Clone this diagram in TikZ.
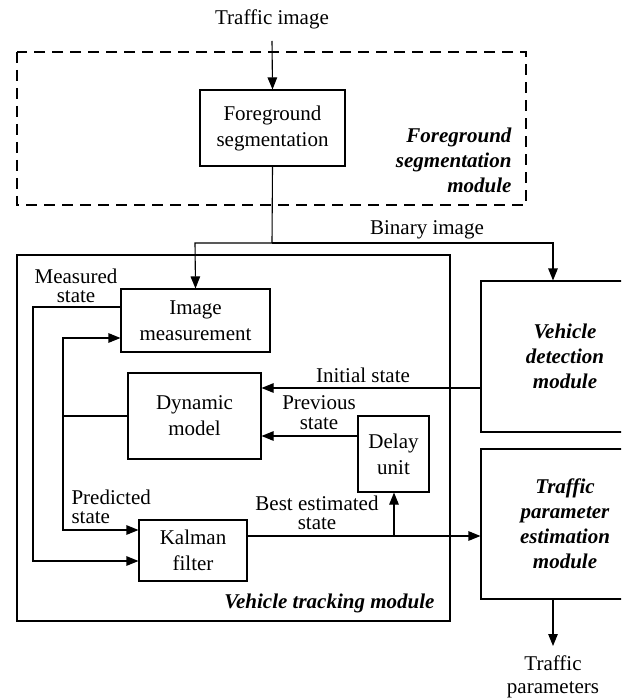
\documentclass[tikz,border=0pt]{standalone}
\usepackage{fontspec}
\setmainfont{Liberation Serif}
\usetikzlibrary{arrows.meta}
\begin{document}
\begin{tikzpicture}[x=1pt,y=-1pt,
  line width=1.1pt,
  font=\fontsize{21}{26}\selectfont,
  arr/.style={-{Triangle[length=12pt,width=9.5pt]}},
  blk/.style={draw,inner sep=0pt,align=center},
  lbl/.style={inner sep=0pt,align=center,font=\fontsize{21}{19.5}\selectfont},
  modl/.style={inner sep=0pt,font=\fontsize{21}{25}\selectfont\bfseries\itshape},
  dashbox/.style={draw,dash pattern=on 11pt off 7pt}]
\useasboundingbox (0,0) rectangle (621,700);
\clip (0,0) rectangle (621,700);
% top
\node[lbl] (ti) at (272,19) {Traffic image};
\coordinate (tiend) at (272,41);
\draw[dashbox] (17,52) rectangle (526,205);
\node[blk,minimum width=145pt,minimum height=76pt] (fs) at (272.5,128) {Foreground\\segmentation};
\node[modl,align=right,anchor=east] (fsm) at (512,160) {Foreground\\segmentation\\module};
\draw[arr] (tiend) -- (fs.north);
% tracking module
\draw (17,255) rectangle (450,621);
\node[modl,anchor=east] (vtm) at (435,603) {Vehicle tracking module};
\node[blk,minimum width=149pt,minimum height=63pt] (im) at (195.5,320.5) {Image\\measurement};
\node[blk,minimum width=133pt,minimum height=86pt] (dm) at (194.5,416) {Dynamic\\model};
\node[blk,minimum width=108pt,minimum height=61pt] (kf) at (193,550.5) {Kalman\\filter};
\node[blk,minimum width=71pt,minimum height=76pt] (du) at (393.5,454) {Delay\\unit};
% right modules
\node[blk,minimum width=168pt,minimum height=151pt,font=\fontsize{21}{25}\selectfont\bfseries\itshape] (vd) at (565,356.5) {Vehicle\\detection\\module};
\node[blk,minimum width=168pt,minimum height=150pt,font=\fontsize{21}{25}\selectfont\bfseries\itshape] (tp) at (565,524) {Traffic\\parameter\\estimation\\module};
\node[lbl,font=\fontsize{21}{23}\selectfont] (tpo) at (553,677) {Traffic\\parameters};
\coordinate (tpend) at (553,646);
\draw[arr] (tp.south -| tpend) -- (tpend);
% binary image distribution
\coordinate (bj) at (272,243);
\coordinate (bl) at (195,243);
\coordinate (br) at (553,243);
\node[lbl] (bil) at (427,230) {Binary image};
\draw (fs.south) -- (bj);
\draw[arr] (bj) -- (bl) -- (im.north);
\draw[arr] (bj) -- (br) -- (vd.north -| br);
% measured state loop
\node[lbl] (msl) at (76,286) {Measured\\state};
\coordinate (m1) at (33,307);
\coordinate (m2) at (33,561);
\draw[arr] (im.west |- m1) -- (m1) -- (m2) -- (kf.west |- m2);
% predicted state loop
\coordinate (p1) at (63,338);
\coordinate (p2) at (63,530);
\coordinate (p3) at (63,416);
\draw[arr] (p2) -- (p1) -- (im.west |- p1);
\draw[arr] (p1) -- (p2) -- (kf.west |- p2);
\draw (dm.west) -- (p3);
\node[lbl,align=left,anchor=west] (psl) at (71,507) {Predicted\\state};
% initial state
\coordinate (is) at (481,388);
\draw[arr] (vd.west |- is) -- (dm.east |- is);
\node[lbl] (isl) at (363,375) {Initial state};
% previous state
\coordinate (ps) at (358,436);
\draw[arr] (du.west |- ps) -- (dm.east |- ps);
\node[lbl] (pvl) at (319,412.5) {Previous\\state};
% best estimated state
\coordinate (be) at (247,536);
\coordinate (bb) at (394,536);
\draw[arr] (kf.east |- be) -- (tp.west |- be);
\draw[arr] (bb) -- (du.south -| bb);
\node[lbl] (bel) at (317,513) {Best estimated\\state};
\end{tikzpicture}
\end{document}
